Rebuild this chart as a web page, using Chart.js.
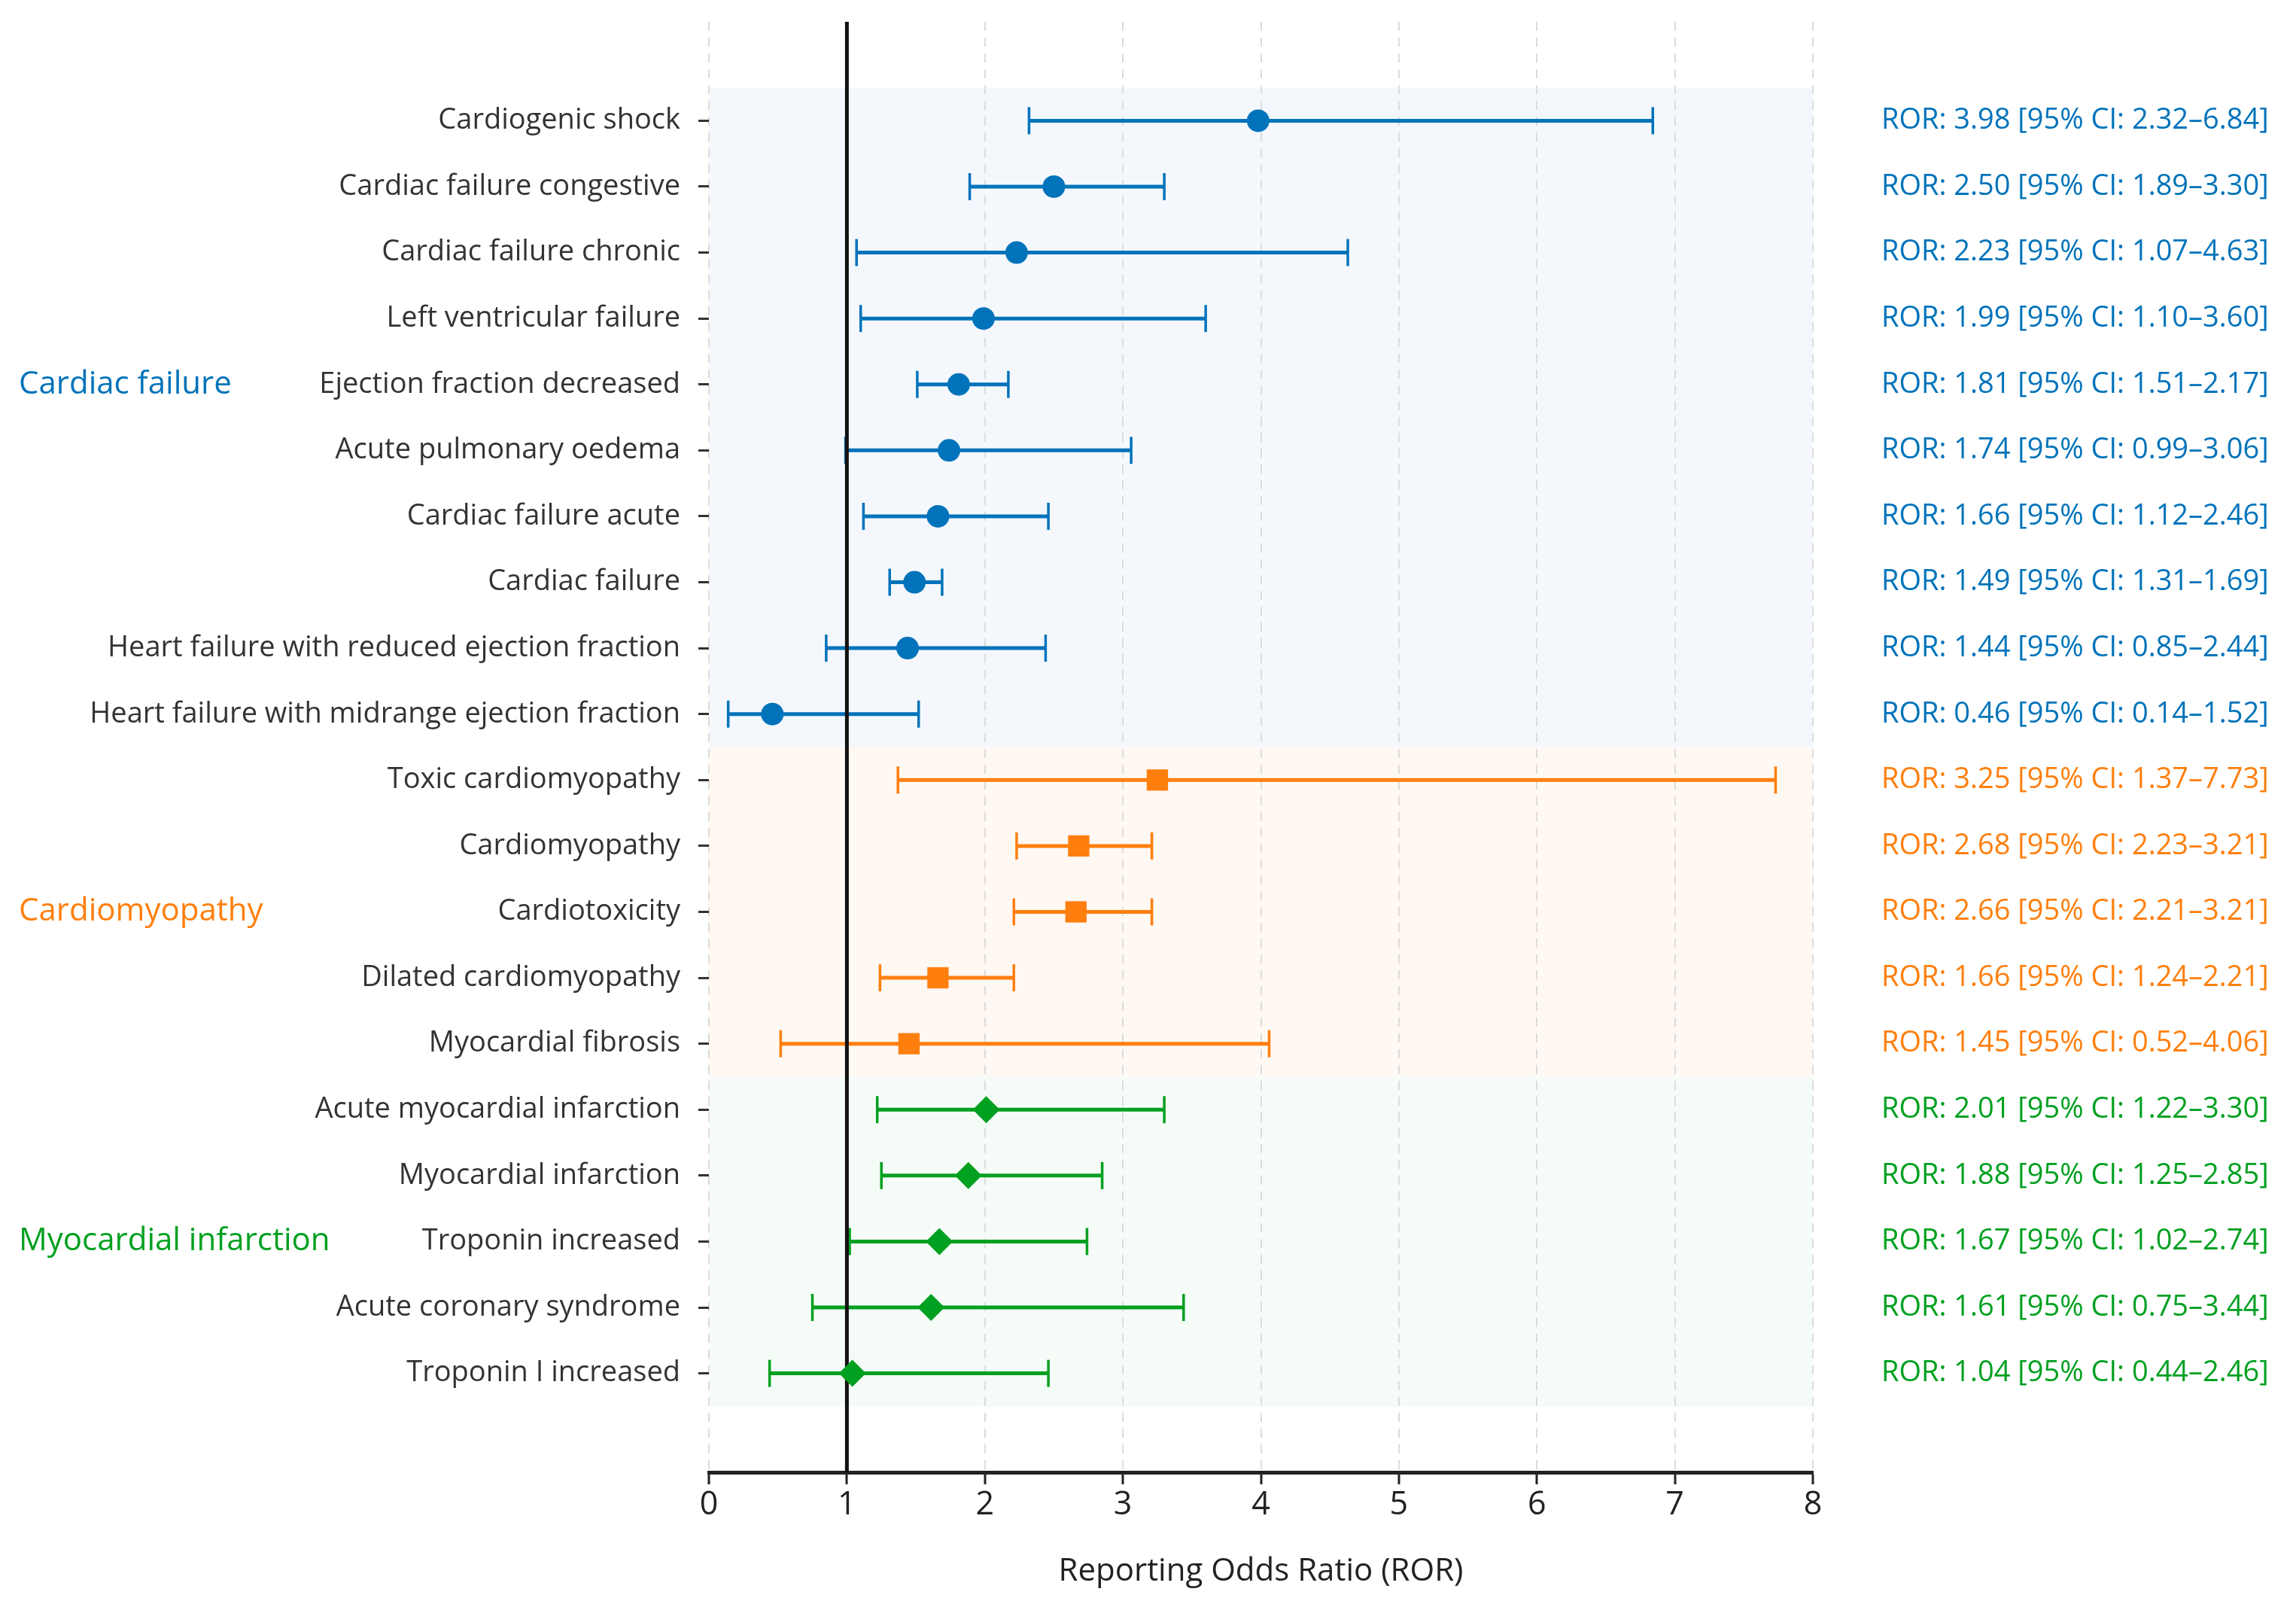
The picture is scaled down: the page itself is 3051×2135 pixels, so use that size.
<!DOCTYPE html>
<html>
<head>
<meta charset="utf-8">
<script src="https://cdn.jsdelivr.net/npm/chart.js@4.4.1/dist/chart.umd.min.js"></script>
<style>
  html, body { margin: 0; padding: 0; background: #fff; }
  #wrap { width: 3051px; height: 2135px; }
</style>
</head>
<body>
<div id="wrap"><canvas id="forest" width="3051" height="2135"></canvas></div>
<script>
// rows, top to bottom
const terms = [
  'Cardiogenic shock',
  'Cardiac failure congestive',
  'Cardiac failure chronic',
  'Left ventricular failure',
  'Ejection fraction decreased',
  'Acute pulmonary oedema',
  'Cardiac failure acute',
  'Cardiac failure',
  'Heart failure with reduced ejection fraction',
  'Heart failure with midrange ejection fraction',
  'Toxic cardiomyopathy',
  'Cardiomyopathy',
  'Cardiotoxicity',
  'Dilated cardiomyopathy',
  'Myocardial fibrosis',
  'Acute myocardial infarction',
  'Myocardial infarction',
  'Troponin increased',
  'Acute coronary syndrome',
  'Troponin I increased'
];
const groupOf = [0,0,0,0,0,0,0,0,0,0, 1,1,1,1,1, 2,2,2,2,2];
const ror    = [3.98, 2.50, 2.23, 1.99, 1.81, 1.74, 1.66, 1.49, 1.44, 0.46, 3.25, 2.68, 2.66, 1.66, 1.45, 2.01, 1.88, 1.67, 1.61, 1.04];
const ciLow  = [2.32, 1.89, 1.07, 1.10, 1.51, 0.99, 1.12, 1.31, 0.85, 0.14, 1.37, 2.23, 2.21, 1.24, 0.52, 1.22, 1.25, 1.02, 0.75, 0.44];
const ciHigh = [6.84, 3.30, 4.63, 3.60, 2.17, 3.06, 2.46, 1.69, 2.44, 1.52, 7.73, 3.21, 3.21, 2.21, 4.06, 3.30, 2.85, 2.74, 3.44, 2.46];

const groups = ['Cardiac failure', 'Cardiomyopathy', 'Myocardial infarction'];
const groupColors = ['#0073BA', '#FF7F0E', '#00A020'];
const groupBands = ['rgba(0,100,220,0.045)', 'rgba(255,127,14,0.05)', 'rgba(0,150,40,0.04)'];
const groupMarkers = ['circle', 'rect', 'rectRot'];
const groupMarkerSize = [15, 20, 18];

const xTicks = [0, 1, 2, 3, 4, 5, 6, 7, 8];
const nullLine = 1;

const FONT = '"Open Sans", Lato, sans-serif';

function rowsOf(g) {
  return terms.map((_, i) => i).filter(i => groupOf[i] === g);
}

const datasets = [];
groups.forEach((name, g) => {
  const rows = rowsOf(g);
  datasets.push({
    type: 'scatter',
    label: name,
    data: rows.map(i => ({x: ror[i], y: i})),
    pointStyle: groupMarkers[g],
    pointRadius: groupMarkerSize[g],
    pointHoverRadius: groupMarkerSize[g],
    backgroundColor: groupColors[g],
    borderColor: groupColors[g],
    borderWidth: 0,
    order: 0
  });
  const seg = [];
  rows.forEach(i => {
    seg.push({x: ciLow[i], y: i});
    seg.push({x: ciHigh[i], y: i});
    seg.push({x: null, y: null});
  });
  datasets.push({
    type: 'line',
    label: name + ' CI',
    data: seg,
    spanGaps: false,
    showLine: true,
    borderColor: groupColors[g],
    borderWidth: 5,
    pointStyle: 'line',
    rotation: 90,
    pointRadius: 18,
    pointHoverRadius: 18,
    pointBorderWidth: 3.5,
    pointBorderColor: groupColors[g],
    fill: false,
    order: 2
  });
});
datasets.push({
  type: 'line',
  label: 'ROR = 1',
  data: [{x: nullLine, y: -1.5}, {x: nullLine, y: terms.length + 0.5}],
  borderColor: '#111',
  borderWidth: 5,
  pointRadius: 0,
  fill: false,
  order: 1
});

const bandsPlugin = {
  id: 'bands',
  beforeDraw(chart) {
    const {ctx, scales: {x, y}} = chart;
    ctx.save();
    groups.forEach((_, g) => {
      const rows = rowsOf(g);
      const top = y.getPixelForValue(rows[0] - 0.5);
      const bottom = y.getPixelForValue(rows[rows.length - 1] + 0.5);
      const left = x.getPixelForValue(0);
      const right = x.getPixelForValue(8);
      ctx.fillStyle = groupBands[g];
      ctx.fillRect(left, top, right - left, bottom - top);
    });
    ctx.restore();
  }
};

const textPlugin = {
  id: 'sideText',
  afterDraw(chart) {
    const {ctx, scales: {y}} = chart;
    ctx.save();
    ctx.textBaseline = 'middle';
    ctx.textAlign = 'left';
    ctx.font = '38px ' + FONT;
    terms.forEach((_, i) => {
      ctx.fillStyle = groupColors[groupOf[i]];
      const txt = 'ROR: ' + ror[i].toFixed(2) + ' [95% CI: ' + ciLow[i].toFixed(2) + '\u2013' + ciHigh[i].toFixed(2) + ']';
      ctx.fillText(txt, 2500, y.getPixelForValue(i));
    });
    ctx.font = '42px ' + FONT;
    groups.forEach((name, g) => {
      const rows = rowsOf(g);
      const mid = Math.floor((rows[0] + rows[rows.length - 1]) / 2);
      ctx.fillStyle = groupColors[g];
      ctx.fillText(name, 25, y.getPixelForValue(mid));
    });
    ctx.restore();
  }
};

new Chart(document.getElementById('forest'), {
  data: { datasets: datasets },
  options: {
    responsive: false,
    devicePixelRatio: 1,
    animation: false,
    layout: { padding: { left: 0, right: 642, top: 29, bottom: 0 } },
    plugins: {
      legend: { display: false },
      tooltip: { enabled: false }
    },
    scales: {
      x: {
        type: 'linear',
        position: 'bottom',
        min: 0,
        max: 8,
        afterBuildTicks: scale => { scale.ticks = xTicks.map(v => ({value: v})); },
        afterFit: scale => { scale.height = 179; scale.paddingLeft = 0; scale.paddingRight = 0; },
        ticks: { font: { family: FONT, size: 43 }, color: '#222', padding: 2 },
        grid: {
          color: '#dcdcdc',
          lineWidth: 2,
          drawTicks: true,
          tickLength: 16,
          tickWidth: 3,
          tickColor: '#222',
          tickBorderDash: []
        },
        border: { display: true, color: '#222', width: 5, dash: [12, 9] },
        title: {
          display: true,
          text: 'Reporting Odds Ratio (ROR)',
          font: { family: FONT, size: 42 },
          color: '#222',
          padding: { top: 0, bottom: 22 }
        }
      },
      y: {
        type: 'linear',
        reverse: true,
        min: -1.5,
        max: terms.length + 0.5,
        afterBuildTicks: scale => { scale.ticks = terms.map((_, i) => ({value: i})); },
        afterFit: scale => { scale.width = 942; scale.paddingTop = 0; scale.paddingBottom = 0; },
        ticks: {
          autoSkip: false,
          callback: v => terms[v],
          font: { family: FONT, size: 38 },
          color: '#333',
          padding: 24
        },
        grid: {
          drawOnChartArea: false,
          drawTicks: true,
          tickLength: 14,
          tickWidth: 3,
          tickColor: '#333'
        },
        border: { display: false }
      }
    }
  },
  plugins: [bandsPlugin, textPlugin]
});
</script>
</body>
</html>
